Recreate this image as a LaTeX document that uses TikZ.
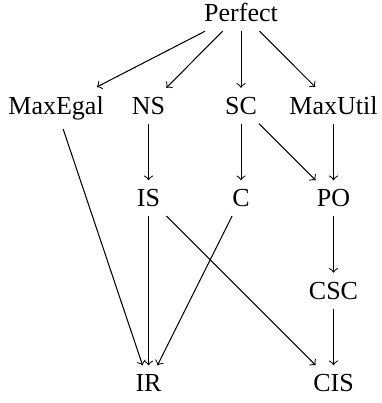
\documentclass[tikz,border=0pt]{standalone}
\usepackage{fontspec}
\setmainfont{Liberation Serif}
\usetikzlibrary{matrix,arrows}

\begin{document}
\begin{tikzpicture}
  \useasboundingbox (-92.7pt,8.35pt) rectangle (53.85pt,-146.65pt);
  \matrix (m) at (0,0) [matrix of nodes, inner sep=0pt, matrix anchor=m-1-3.base, row sep={1.25cm,between origins}, column sep={1.25cm,between origins}, nodes={anchor=base, inner sep=.3333em}]
  {
    & & Perfect & \\
    MaxEgal & NS & SC & MaxUtil \\
    & IS & C & PO \\
    & & & CSC \\
    & IR & & CIS \\
  };
  \path[->]
  (m-1-3) edge (m-2-1)
          edge (m-2-2)
          edge (m-2-3)
          edge (m-2-4)
  (m-2-1) edge (m-5-2)
  (m-2-2) edge (m-3-2)
  (m-2-3) edge (m-3-3)
          edge (m-3-4)
  (m-2-4) edge (m-3-4)
  (m-3-2) edge (m-5-2)
          edge (m-5-4)
  (m-3-3) edge (m-5-2)
  (m-3-4) edge (m-4-4)
  (m-4-4) edge (m-5-4)
  ;
\end{tikzpicture}
\end{document}
